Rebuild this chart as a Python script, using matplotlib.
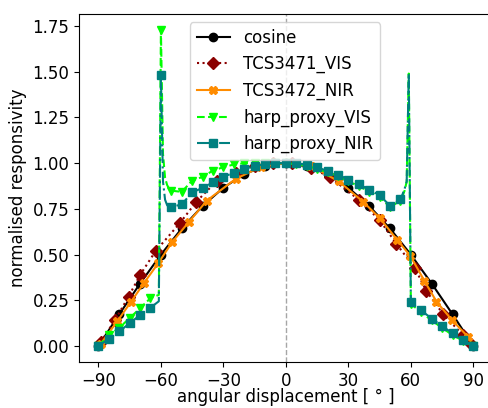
import matplotlib
matplotlib.use("Agg")
import matplotlib.pyplot as plt

# cosine reference
cos_angles = [-90, -80, -70, -60, -50, -40, -30, -20, -10, 0,
              10, 20, 30, 40, 50, 60, 70, 80, 90]
cos_vals = [0.0, 0.174, 0.342, 0.5, 0.643, 0.766, 0.866, 0.94, 0.985, 1.0,
            0.985, 0.94, 0.866, 0.766, 0.643, 0.5, 0.342, 0.174, 0.0]

# TCS sensors
tcs71_angles = [-89, -82, -75.5, -70, -62.5, -51, -43, -33, -24, -15, -6,
                3, 12, 21, 35, 45, 53, 62, 67.5, 75.5, 85, 89]
tcs71_vals = [0.02, 0.143, 0.271, 0.389, 0.52, 0.671, 0.789, 0.905, 0.945,
              0.985, 1.0, 1.0, 0.975, 0.925, 0.80, 0.689, 0.56, 0.425, 0.30,
              0.175, 0.06, 0.01]

tcs72_angles = [-89, -81, -74.3, -68, -61.3, -54.5, -46.7, -38, -24, -12, 0,
                12, 25.5, 37, 45.2, 53.5, 59.7, 66.5, 72.3, 79.7, 87.5]
tcs72_vals = [0.01, 0.135, 0.243, 0.347, 0.453, 0.57, 0.677, 0.795, 0.915,
              0.98, 1.0, 0.985, 0.90, 0.79, 0.698, 0.58, 0.494, 0.357, 0.243,
              0.143, 0.05]

# harp proxy
harp_angles = [-90, -85, -80, -75, -70, -65, -61, -60, -59, -58, -57, -56,
               -55, -50, -45, -40, -35, -30, -25, -20, -15, -10, -5, 0,
               5, 10, 15, 20, 25, 30, 35, 40, 45, 50, 55, 56, 57, 58, 59,
               60, 65, 70, 75, 80, 85, 90]
harp_vis = [0.0, 0.06, 0.10, 0.153, 0.207, 0.262, 0.28, 1.73, 1.05, 0.92,
            0.88, 0.86, 0.85, 0.843, 0.905, 0.925, 0.96, 0.978, 0.993, 1.0,
            1.0, 1.0, 1.0, 1.0, 0.995, 0.985, 0.97, 0.95, 0.93, 0.90, 0.875,
            0.845, 0.815, 0.76, 0.795, 0.82, 0.85, 0.90, 1.49, 0.23, 0.185,
            0.14, 0.10, 0.06, 0.03, 0.0]
harp_nir = [0.0, 0.04, 0.08, 0.125, 0.17, 0.21, 0.245, 1.48, 0.90, 0.80,
            0.77, 0.76, 0.76, 0.775, 0.84, 0.865, 0.895, 0.925, 0.948, 0.967,
            0.985, 0.994, 1.0, 1.0, 1.0, 0.992, 0.977, 0.958, 0.938, 0.91,
            0.885, 0.856, 0.825, 0.767, 0.803, 0.83, 0.86, 0.90, 1.49, 0.24,
            0.195, 0.15, 0.11, 0.07, 0.035, 0.0]

every5 = [i for i, a in enumerate(harp_angles) if a % 5 == 0]

plt.rcParams["font.size"] = 12
fig = plt.figure(figsize=(4.88, 4.08), dpi=100)
# axes runs past the right edge of the picture, like the cropped original
ax = fig.add_axes([0.162, 0.113, 0.872, 0.853])

ax.axvline(0, color="grey", linestyle="--", linewidth=1, alpha=0.7, zorder=0)
ax.plot(cos_angles, cos_vals, "-o", color="black", markersize=6, label="cosine")
ax.plot(tcs71_angles, tcs71_vals, ":D", color="darkred", markersize=6,
        label="TCS3471_VIS")
ax.plot(tcs72_angles, tcs72_vals, "-X", color="darkorange", markersize=6,
        label="TCS3472_NIR")
ax.plot(harp_angles, harp_vis, "--v", color="lime", markersize=6,
        markevery=every5, label="harp_proxy_VIS")
ax.plot(harp_angles, harp_nir, "-.s", color="teal", markersize=6,
        markevery=every5, label="harp_proxy_NIR")

ax.set_xlim(-99.3, 105)
ax.set_xticks([-90, -60, -30, 0, 30, 60, 90])
ax.set_xlabel("angular displacement [ ° ]")
ax.xaxis.set_label_coords(0.486, -0.076)
ax.set_ylabel("normalised responsivity")
ax.legend(loc="upper center", bbox_to_anchor=(0.4845, 1.0), fontsize=12)

fig.savefig("out.png", dpi=100)
